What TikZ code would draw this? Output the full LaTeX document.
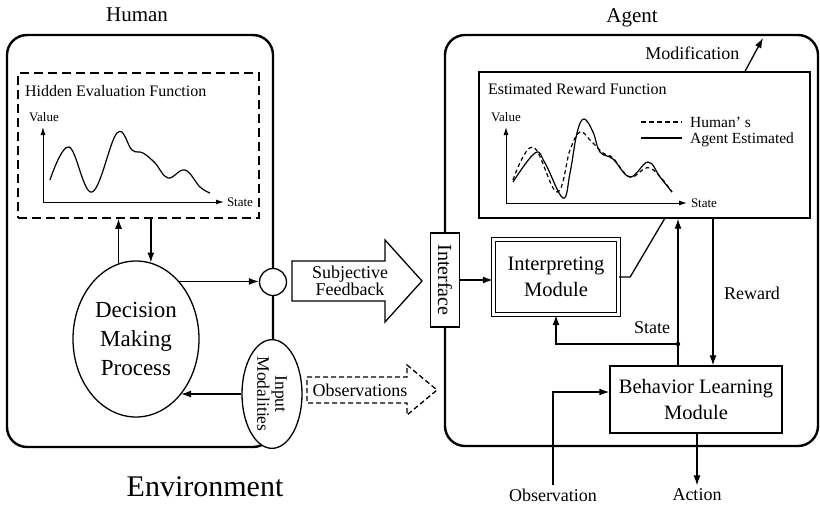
\documentclass[tikz,border=0pt]{standalone}
\usepackage{fontspec}
\setmainfont{Liberation Serif}
\usetikzlibrary{shapes.geometric,arrows.meta}

\begin{document}
\begin{tikzpicture}[x=1pt,y=-1pt,
    outerbox/.style={line width=2.4pt, rounded corners=20pt},
    conn/.style={line width=1.3pt, -{Latex[length=10pt,width=7pt]}},
    axis/.style={line width=1pt, -{Latex[length=8pt,width=5pt]}},
    curve/.style={line width=1.2pt},
    title/.style={font=\fontsize{21}{24}\selectfont},
    lbl/.style={font=\fontsize{18}{17}\selectfont},
    modtext/.style={font=\fontsize{20.5}{26}\selectfont, align=center},
    boxtitle/.style={font=\fontsize{16}{18}\selectfont},
    legend/.style={font=\fontsize{15.5}{16}\selectfont, inner sep=0pt, text height=10.5pt, text depth=1pt, anchor=base west},
    axlabel/.style={font=\fontsize{13}{14}\selectfont}]
    \useasboundingbox (0,0) rectangle (820,504);

    % human side
    \draw[outerbox] (7,35) rectangle (273,447);
    \node[title] (human) at (137,15) {Human};
    \node[font=\fontsize{30}{32}\selectfont] (env) at (205,487) {Environment};

    \node[draw, line width=1.6pt, dash pattern=on 9pt off 5pt, minimum width=241pt, minimum height=145pt] (hef) at (138.5,145.5) {};
    \node[boxtitle, anchor=west] (heftitle) at (21.5,91) {Hidden Evaluation Function};
    \node[axlabel] (hval) at (44,117) {Value};
    \node[axlabel] (hstate) at (240,202) {State};
    \draw[axis] (43,202) -- (43,127);
    \draw[axis] (43,202) -- (224,202);
    \draw[curve] plot[smooth, tension=0.65] coordinates {(50,180) (69,147) (92,192) (117,133) (132,150) (143,153) (155,163) (168,178) (185,170) (200,187) (210,193)};

    \node[ellipse, draw, line width=1.3pt, minimum width=126pt, minimum height=156pt, align=center, font=\fontsize{23}{29}\selectfont] (dmp) at (136,339) {Decision\\Making\\Process};
    \draw[conn] (dmp.103.5) -- (dmp.103.5 |- hef.south);
    \draw[conn] (dmp.79.6 |- hef.south) -- (dmp.79.6);

    \node[circle, draw, line width=1.3pt, fill=white, minimum size=27pt, inner sep=0pt] (fbport) at (273,282) {};
    \draw[conn] (dmp.53) -- (dmp.53 -| fbport.west);

    \node[ellipse, draw, line width=1.3pt, fill=white, rotate=-90, minimum width=88pt, minimum height=60pt, inner sep=1pt, align=center, font=\fontsize{17.5}{18}\selectfont] (inmod) at (272,394) {Input\\Modalities};
    \draw[conn] (inmod.south) -- (inmod.south -| dmp.-51);

    % channels between the two sides
    \draw[line width=1.3pt] (292,261) -- (385,261) -- (385,240) -- (422,281) -- (385,322) -- (385,301) -- (292,301) -- cycle;
    \node[lbl, align=center] (fb) at (350,281) {Subjective\\Feedback};
    \draw[line width=1.3pt, dash pattern=on 5pt off 3pt] (307,377) -- (407,377) -- (407,365) -- (437,390) -- (407,415) -- (407,403) -- (307,403) -- cycle;
    \node[lbl] (obsv) at (360,390) {Observations};

    % agent side
    \draw[outerbox] (445,35) rectangle (818,446);
    \node[title] (agent) at (632,18) {Agent};
    \node[draw, line width=1.3pt, fill=white, rotate=-90, minimum width=94pt, minimum height=29pt, font=\fontsize{20}{22}\selectfont] (iface) at (445,280) {Interface};

    \node[draw, line width=1.3pt, minimum width=331pt, minimum height=146pt] (erf) at (644.5,145) {};
    \node[boxtitle, anchor=west] (erftitle) at (484.5,89) {Estimated Reward Function};
    \node[axlabel] (eval) at (506,117) {Value};
    \node[axlabel] (estate) at (704,203) {State};
    \draw[axis] (506,203) -- (506,127);
    \draw[axis] (506,203) -- (687,203);
    \draw[curve, dash pattern=on 4pt off 3pt] plot[smooth, tension=0.65] coordinates {(513,180) (533,147) (557,192) (570,150) (580,132) (590,140) (603,153) (613,158) (630,177) (650,168) (672,192)};
    \draw[curve] plot[smooth, tension=0.65] coordinates {(513,182) (535,153) (545,163) (563,198) (570,173) (577,133) (584,119) (593,132) (600,152) (613,159) (630,177) (648,162) (660,177) (672,192)};
    \draw[curve, dash pattern=on 5pt off 3pt] (641,122) -- (682,122);
    \node[legend] (lhum) at (690,127.5) {Human' s};
    \draw[curve] (641,138) -- (682,138);
    \node[legend] (lagt) at (690,143.5) {Agent Estimated};

    \node[lbl, anchor=east] (modif) at (743,53) {Modification};
    \coordinate (modtip) at (763,38);
    \draw[conn] ([xshift=100.5pt]erf.north) -- (modtip);

    \node[draw, line width=1.3pt, double, double distance=2.5pt, minimum width=125pt, minimum height=75pt, modtext] (interp) at (556,277) {Interpreting\\Module};
    \draw[conn] (iface.north) -- (iface.north -| interp.west);
    \coordinate (hit) at (665,218);
    \draw[line width=1.3pt] (interp.east) -- ++(11,0) -- (hit);

    \node[draw, line width=1.3pt, minimum width=172pt, minimum height=67pt, modtext] (blm) at (696,399.5) {Behavior Learning\\Module};

    \coordinate (junc) at (678,344);
    \coordinate (rw) at (713,344);
    \draw[conn] (blm.north -| junc) -- (erf.south -| junc);
    \draw[conn] (junc) -| (interp.south);
    \fill (junc) circle (2.2pt);
    \node[lbl] (statelbl) at (652,328) {State};
    \draw[conn] (erf.south -| rw) -- (blm.north -| rw);
    \node[lbl] (rwlbl) at (752,293) {Reward};

    \node[lbl] (obs) at (553,495) {Observation};
    \node[lbl] (act) at (697,495) {Action};
    \draw[conn] (obs.north) |- ([yshift=7.5pt]blm.west);
    \draw[conn] (blm.south -| act) -- (act.north);
\end{tikzpicture}
\end{document}
